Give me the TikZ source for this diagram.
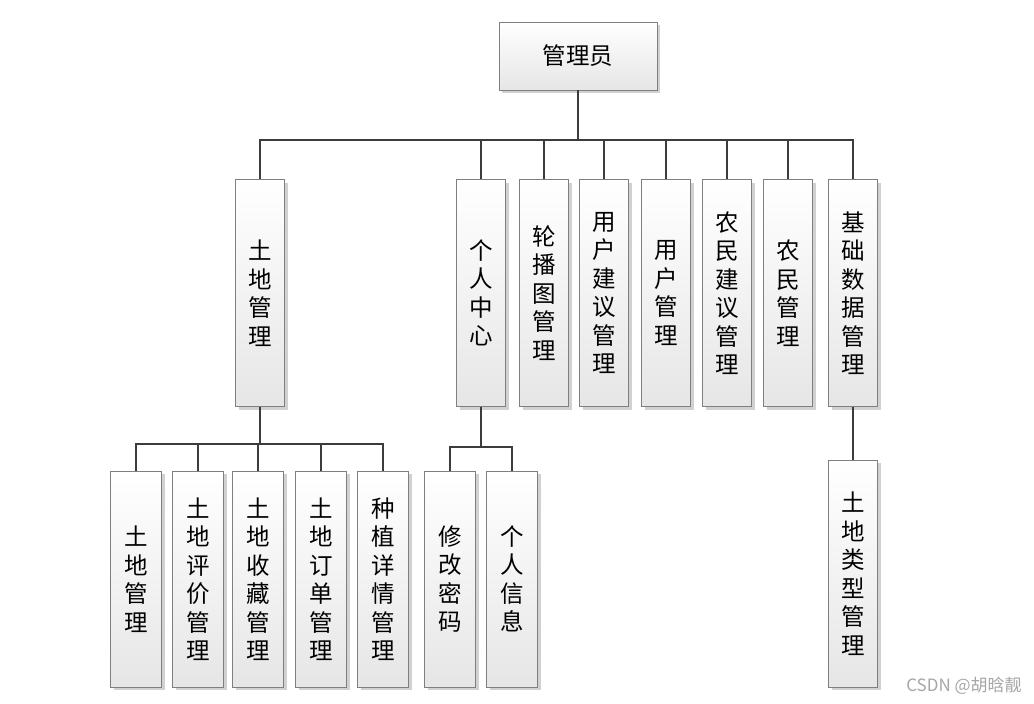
\documentclass[tikz,border=0pt]{standalone}
\usepackage{fontspec}
\setmainfont{Noto Sans CJK SC}
\usetikzlibrary{shadows}
\definecolor{boxline}{HTML}{7F7F7F}
\definecolor{wire}{HTML}{3C3C3C}
\definecolor{boxbottom}{HTML}{E6E6E6}
\begin{document}
\begin{tikzpicture}[x=1pt,y=-1pt,
  box/.style={draw=boxline,line width=0.9pt,top color=white,bottom color=boxbottom,
    drop shadow={shadow xshift=3pt,shadow yshift=-3pt,fill=black!18,opacity=1},
    inner sep=0pt,align=center,font=\fontsize{23.5}{28.5}\selectfont},
  vbox/.style={box,minimum width=49pt,minimum height=227pt},
  leafbox/.style={box,minimum width=51pt,minimum height=216pt},
  link/.style={draw=wire,line width=2pt}]
  \useasboundingbox (0,0) rectangle (1034,704);
  % Admin
  \node[box,minimum width=158pt,minimum height=68pt] (admin) at (578,56) {管理员};
  % Second level
  \node[vbox] (land) at (260,293) {土\\地\\管\\理};
  \node[vbox] (personal) at (481,293) {个\\人\\中\\心};
  \node[vbox] (carousel) at (544,293) {轮\\播\\图\\管\\理};
  \node[vbox] (usersugg) at (604,293) {用\\户\\建\\议\\管\\理};
  \node[vbox] (user) at (666,293) {用\\户\\管\\理};
  \node[vbox] (farmersugg) at (727,293) {农\\民\\建\\议\\管\\理};
  \node[vbox] (farmer) at (788,293) {农\\民\\管\\理};
  \node[vbox] (basedata) at (853,293) {基\\础\\数\\据\\管\\理};
  % Third level
  \node[leafbox] (landsub) at (136,579) {土\\地\\管\\理};
  \node[leafbox] (landeval) at (198,579) {土\\地\\评\\价\\管\\理};
  \node[leafbox] (landfav) at (258,579) {土\\地\\收\\藏\\管\\理};
  \node[leafbox] (landorder) at (321,579) {土\\地\\订\\单\\管\\理};
  \node[leafbox] (planting) at (383,579) {种\\植\\详\\情\\管\\理};
  \node[leafbox] (password) at (450,579) {修\\改\\密\\码};
  \node[leafbox] (info) at (512,579) {个\\人\\信\\息};
  \node[vbox] (landtype) at (853,573.5) {土\\地\\类\\型\\管\\理};
  % Links from admin
  \foreach \child in {land,personal,carousel,usersugg,user,farmersugg,farmer,basedata}
    \path[link] (admin.south) -- ++(0,50) -| (\child.north);
  % Links from land management
  \foreach \child in {landsub,landeval,landfav,landorder,planting}
    \path[link] (land.south) -- ++(0,37) -| (\child.north);
  % Links from personal center
  \foreach \child in {password,info}
    \path[link] (personal.south) -- ++(0,40) -| (\child.north);
  % Base data
  \path[link] (basedata.south) -- (landtype.north);
  % Watermark
  \node[text=black!35,font=\fontsize{17}{20}\selectfont] (mark) at (964,686) {CSDN @胡晗靓};
\end{tikzpicture}
\end{document}
